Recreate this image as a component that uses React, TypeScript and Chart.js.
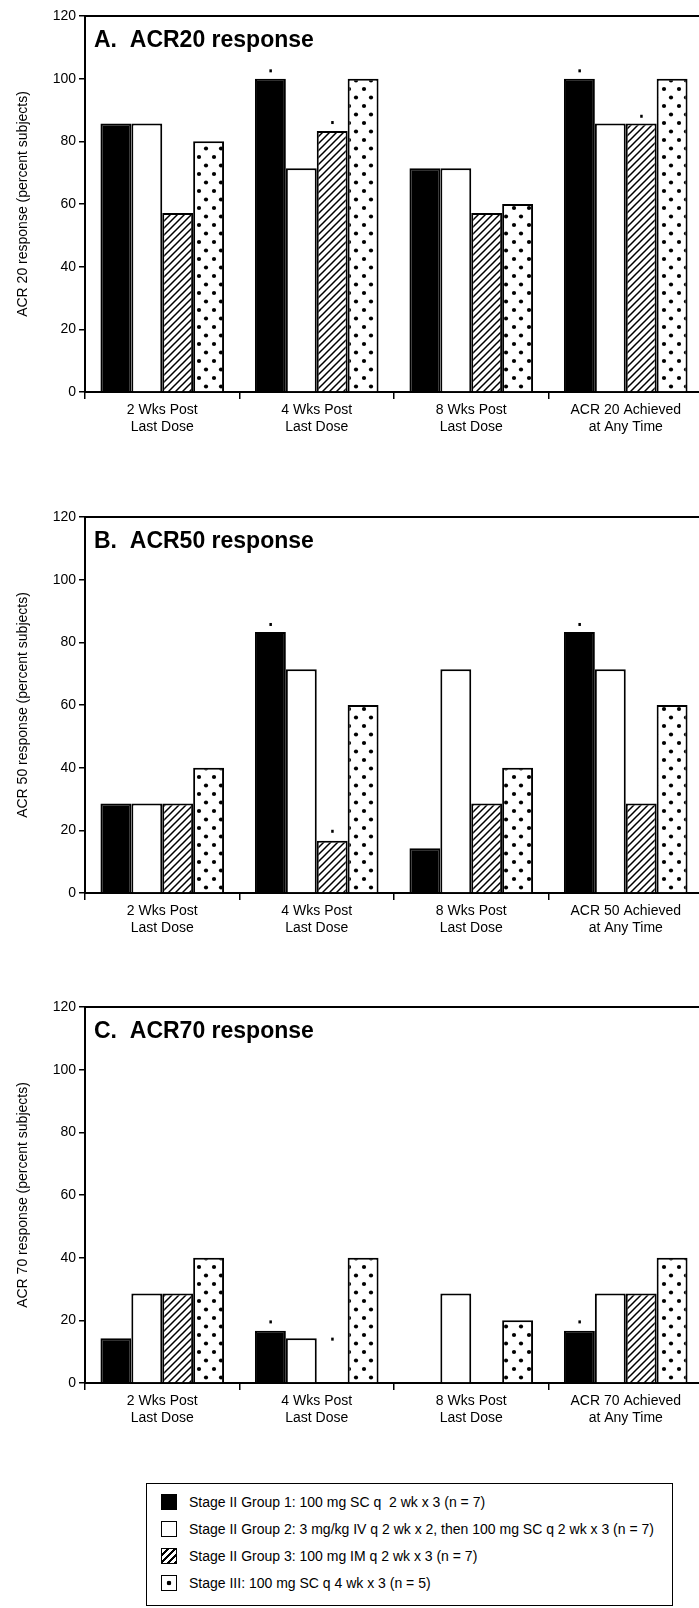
import React, { useEffect, useRef } from "react";
import { Chart, registerables } from "chart.js";

Chart.register(...registerables);

const FONT = '"Liberation Sans", Arial, Helvetica, sans-serif';

// ---- data ----
const seriesLabels = [
  "Stage II Group 1: 100 mg SC q  2 wk x 3 (n = 7)",
  "Stage II Group 2: 3 mg/kg IV q 2 wk x 2, then 100 mg SC q 2 wk x 3 (n = 7)",
  "Stage II Group 3: 100 mg IM q 2 wk x 3 (n = 7)",
  "Stage III: 100 mg SC q 4 wk x 3 (n = 5)",
];

const categories20 = [["2 Wks Post", "Last Dose"], ["4 Wks Post", "Last Dose"], ["8 Wks Post", "Last Dose"], ["ACR 20 Achieved", "at Any Time"]];
const categories50 = [["2 Wks Post", "Last Dose"], ["4 Wks Post", "Last Dose"], ["8 Wks Post", "Last Dose"], ["ACR 50 Achieved", "at Any Time"]];
const categories70 = [["2 Wks Post", "Last Dose"], ["4 Wks Post", "Last Dose"], ["8 Wks Post", "Last Dose"], ["ACR 70 Achieved", "at Any Time"]];

const acr20Group1 = [85.7, 100, 71.4, 100];
const acr20Group2 = [85.7, 71.4, 71.4, 85.7];
const acr20Group3 = [57.1, 83.3, 57.1, 85.7];
const acr20Stage3 = [80, 100, 60, 100];

const acr50Group1 = [28.6, 83.3, 14.3, 83.3];
const acr50Group2 = [28.6, 71.4, 71.4, 71.4];
const acr50Group3 = [28.6, 16.7, 28.6, 28.6];
const acr50Stage3 = [40, 60, 40, 60];

const acr70Group1 = [14.3, 16.7, 0, 16.7];
const acr70Group2 = [28.6, 14.3, 28.6, 28.6];
const acr70Group3 = [28.6, 0, 0, 28.6];
const acr70Stage3 = [40, 40, 20, 40];

// significance marks: [series index, category index, y value]
const marks20 = [[0, 1, 102.5], [2, 1, 86], [0, 3, 102.5], [2, 3, 88]];
const marks50 = [[0, 1, 85.7], [2, 1, 19.7], [0, 3, 85.7]];
const marks70 = [[0, 1, 19.5], [2, 1, 14], [0, 3, 19.5]];

const panelTitles = ["A.  ACR20 response", "B.  ACR50 response", "C.  ACR70 response"];
const yTitles = ["ACR 20 response (percent subjects)", "ACR 50 response (percent subjects)", "ACR 70 response (percent subjects)"];
const yMax = 120;
const yStep = 20;

// ---- helpers ----
function makeHatch(ctx: CanvasRenderingContext2D) {
  const s = 7;
  const c = document.createElement("canvas");
  c.width = s; c.height = s;
  const g = c.getContext("2d")!;
  g.fillStyle = "#fff"; g.fillRect(0, 0, s, s);
  g.strokeStyle = "#000"; g.lineWidth = 1.5;
  g.beginPath();
  g.moveTo(-1, s + 1); g.lineTo(s + 1, -1);
  g.moveTo(-1, 1); g.lineTo(1, -1);
  g.moveTo(s - 1, s + 1); g.lineTo(s + 1, s - 1);
  g.stroke();
  return ctx.createPattern(c, "repeat")!;
}

function makeDots(ctx: CanvasRenderingContext2D) {
  const w = 15, h = 17;
  const c = document.createElement("canvas");
  c.width = w; c.height = h;
  const g = c.getContext("2d")!;
  g.fillStyle = "#fff"; g.fillRect(0, 0, w, h);
  g.fillStyle = "#000";
  g.beginPath(); g.arc(4, 4, 2.1, 0, Math.PI * 2); g.fill();
  g.beginPath(); g.arc(11, 12.5, 2.1, 0, Math.PI * 2); g.fill();
  return ctx.createPattern(c, "repeat")!;
}

const decorPlugin = {
  id: "decor",
  afterDraw(chart: any, _args: any, opts: any) {
    const { ctx, chartArea } = chart;
    ctx.save();
    ctx.strokeStyle = "#000";
    ctx.lineWidth = 2;
    ctx.beginPath();
    ctx.moveTo(chartArea.left, chartArea.top);
    ctx.lineTo(chart.width, chartArea.top);
    ctx.stroke();
    ctx.fillStyle = "#000";
    ctx.font = `bold 23px ${FONT}`;
    ctx.textBaseline = "middle";
    ctx.textAlign = "left";
    ctx.fillText(opts.title, chartArea.left + 9, chartArea.top + 25);
    const y = chart.scales.y;
    for (const [s, c, v] of opts.marks) {
      const bar = chart.getDatasetMeta(s).data[c];
      const px = bar.x;
      const py = y.getPixelForValue(v);
      ctx.fillRect(px - 1, py - 1.5, 2.5, 3);
    }
    ctx.restore();
  },
};

const CW = 720;
const CH = 442;

function BarPanel(props: { top: number; title: string; yTitle: string; labels: string[][]; series: number[][]; marks: number[][] }) {
  const ref = useRef<HTMLCanvasElement>(null);
  useEffect(() => {
    const canvas = ref.current!;
    const ctx = canvas.getContext("2d")!;
    const fills: any[] = ["#000", "#fff", makeHatch(ctx), makeDots(ctx)];
    const tickFont = { family: FONT, size: 14 };
    const chart = new Chart(canvas, {
      type: "bar",
      data: {
        labels: props.labels,
        datasets: props.series.map((d, i) => ({
          label: seriesLabels[i],
          data: d,
          backgroundColor: fills[i],
          borderColor: "#000",
          borderWidth: 2,
          categoryPercentage: 0.8,
          barPercentage: 1,
        })),
      },
      options: {
        responsive: false,
        devicePixelRatio: 1,
        animation: false,
        layout: { padding: { left: 0, right: CW - 703, top: 16, bottom: 0 } },
        plugins: {
          legend: { display: false },
          tooltip: { enabled: false },
          decor: { title: props.title, marks: props.marks },
        } as any,
        scales: {
          x: {
            afterFit: (s: any) => { s.height = CH - 16 - 376; },
            grid: { display: true, drawOnChartArea: false, drawTicks: true, tickLength: 7, color: "#000", lineWidth: 1.5, offset: true },
            border: { display: true, color: "#000", width: 2 },
            ticks: { font: tickFont, color: "#000", maxRotation: 0, autoSkip: false, padding: 3 },
          },
          y: {
            min: 0,
            max: yMax,
            afterFit: (s: any) => { s.width = 85; },
            ticks: { stepSize: yStep, font: tickFont, color: "#000", padding: 3 },
            grid: { drawOnChartArea: false, tickLength: 6, color: "#000", lineWidth: 1.5 },
            border: { display: true, color: "#000", width: 2 },
            title: { display: true, text: props.yTitle, font: tickFont, color: "#000", padding: { top: 15, bottom: 0 } },
          },
        },
      } as any,
      plugins: [decorPlugin as any],
    });
    return () => chart.destroy();
  }, []);
  return (
    <canvas
      ref={ref}
      width={CW}
      height={CH}
      style={{ position: "absolute", left: 0, top: props.top, width: CW, height: CH }}
    />
  );
}

const swatchStyles: React.CSSProperties[] = [
  { background: "#000" },
  { background: "#fff" },
  { background: "repeating-linear-gradient(135deg, #fff 0px, #fff 3px, #000 3px, #000 5px)" },
  { background: "radial-gradient(circle at 50% 50%, #000 0px, #000 2px, #fff 2.6px)" },
];

function Legend() {
  return (
    <div
      style={{
        position: "absolute",
        left: 146,
        top: 1483,
        width: 527,
        height: 123,
        border: "1.5px solid #000",
        boxSizing: "border-box",
        fontFamily: FONT,
        fontSize: 14,
        color: "#000",
      }}
    >
      {seriesLabels.map((t, i) => (
        <div key={i} style={{ position: "absolute", left: 14, top: 9 + i * 27, height: 18, display: "flex", alignItems: "center" }}>
          <div style={{ width: 14, height: 14, border: "1.5px solid #000", ...swatchStyles[i] }} />
          <span style={{ marginLeft: 12, whiteSpace: "pre" }}>{t}</span>
        </div>
      ))}
    </div>
  );
}

export default function App() {
  return (
    <div style={{ position: "absolute", left: 0, top: 0, width: 699, height: 1608, overflow: "hidden", background: "#fff" }}>
      <BarPanel top={0} title={panelTitles[0]} yTitle={yTitles[0]} labels={categories20} series={[acr20Group1, acr20Group2, acr20Group3, acr20Stage3]} marks={marks20} />
      <BarPanel top={501} title={panelTitles[1]} yTitle={yTitles[1]} labels={categories50} series={[acr50Group1, acr50Group2, acr50Group3, acr50Stage3]} marks={marks50} />
      <BarPanel top={991} title={panelTitles[2]} yTitle={yTitles[2]} labels={categories70} series={[acr70Group1, acr70Group2, acr70Group3, acr70Stage3]} marks={marks70} />
      <Legend />
    </div>
  );
}
